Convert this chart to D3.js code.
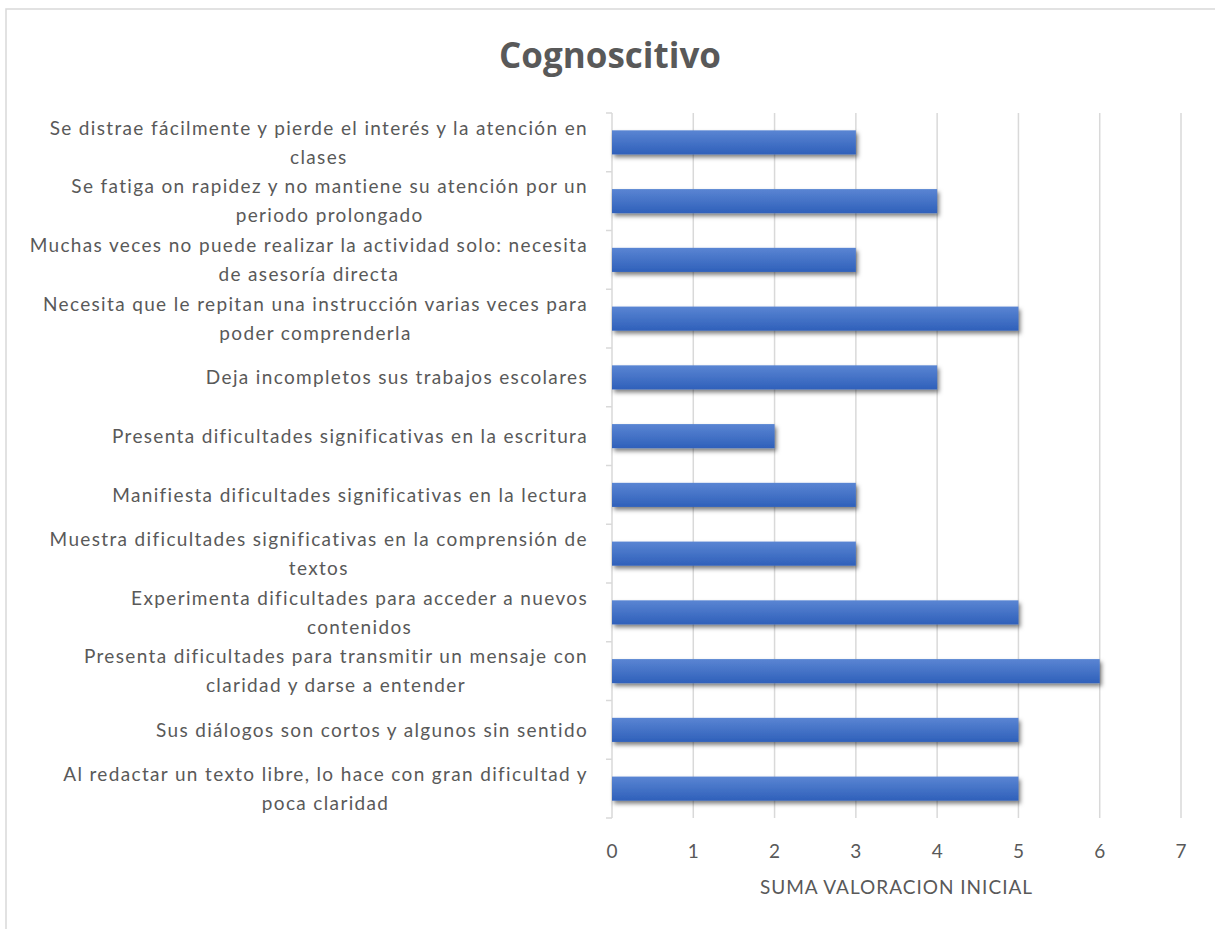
<!DOCTYPE html>
<html>
<head>
<meta charset="utf-8">
<script src="https://cdn.jsdelivr.net/npm/d3@7"></script>
<style>
  body { margin: 0; background: #fff; }
  text { font-family: Lato, "Open Sans", sans-serif; fill: #595959; }
</style>
</head>
<body>
<svg id="chart"></svg>
<script>
// Category labels, top to bottom ("\n" marks the line break in the label)
const categories = [
  "Se distrae fácilmente y pierde el interés y la atención en\nclases",
  "Se fatiga on rapidez y no mantiene su atención por un\nperiodo prolongado",
  "Muchas veces no puede realizar la actividad solo: necesita\nde asesoría directa",
  "Necesita que le repitan una instrucción varias veces para\npoder comprenderla",
  "Deja incompletos sus trabajos escolares",
  "Presenta dificultades significativas en la escritura",
  "Manifiesta dificultades significativas en la lectura",
  "Muestra dificultades significativas en la comprensión de\ntextos",
  "Experimenta dificultades para acceder a nuevos\ncontenidos",
  "Presenta dificultades para transmitir un mensaje con\nclaridad y darse a entender",
  "Sus diálogos son cortos y algunos sin sentido",
  "Al redactar un texto libre, lo hace con gran dificultad y\npoca claridad"
];

// Suma valoracion inicial for each category
const values = [3, 4, 3, 5, 4, 2, 3, 3, 5, 6, 5, 5];

const xTicks = [0, 1, 2, 3, 4, 5, 6, 7];

const chartTitle = "Cognoscitivo";
const axisTitle = "SUMA VALORACION INICIAL";

const width = 1215;
const height = 929;
const margin = { top: 113, right: 34, bottom: 111, left: 612 };

const svg = d3.select("#chart")
  .attr("width", width)
  .attr("height", height);

// Gradient and shadow for the bars
const defs = svg.append("defs");
const grad = defs.append("linearGradient")
  .attr("id", "barGrad")
  .attr("x1", 0).attr("y1", 0).attr("x2", 0).attr("y2", 1);
grad.append("stop").attr("offset", "0%").attr("stop-color", "#5a85d3");
grad.append("stop").attr("offset", "100%").attr("stop-color", "#2f60ba");

const shadow = defs.append("filter")
  .attr("id", "shadow")
  .attr("x", "-5%").attr("y", "-30%")
  .attr("width", "115%").attr("height", "180%");
shadow.append("feDropShadow")
  .attr("dx", 2).attr("dy", 3)
  .attr("stdDeviation", 2.2)
  .attr("flood-color", "#000")
  .attr("flood-opacity", 0.5);

// Chart border (top and left edges visible)
svg.append("path")
  .attr("d", `M6,${height} L6,9 L${width},9`)
  .attr("fill", "none")
  .attr("stroke", "#d9d9d9")
  .attr("stroke-width", 1.5);

// Title
svg.append("text")
  .attr("x", 610)
  .attr("y", 68)
  .attr("text-anchor", "middle")
  .style("font-family", "'Open Sans', sans-serif")
  .style("font-size", "35px")
  .style("font-weight", "bold")
  .text(chartTitle);

const x = d3.scaleLinear()
  .domain([0, 7])
  .range([margin.left, width - margin.right]);

const y = d3.scaleBand()
  .domain(d3.range(categories.length))
  .range([margin.top, height - margin.bottom])
  .paddingInner(0.59)
  .paddingOuter(0.295);

// Vertical gridlines
svg.append("g")
  .selectAll("line")
  .data(xTicks.slice(1))
  .enter()
  .append("line")
  .attr("x1", d => x(d))
  .attr("x2", d => x(d))
  .attr("y1", margin.top)
  .attr("y2", height - margin.bottom)
  .attr("stroke", "#d9d9d9")
  .attr("stroke-width", 1.5);

// Left axis line with small ticks at category boundaries
const step = y.step();
const boundaries = d3.range(categories.length + 1)
  .map(i => margin.top + y.paddingOuter() * step - y.paddingInner() * step / 2 + i * step);

svg.append("line")
  .attr("x1", x(0)).attr("x2", x(0))
  .attr("y1", boundaries[0])
  .attr("y2", boundaries[boundaries.length - 1])
  .attr("stroke", "#d9d9d9")
  .attr("stroke-width", 1.5);

svg.append("g")
  .selectAll("line")
  .data(boundaries)
  .enter()
  .append("line")
  .attr("x1", x(0) - 6)
  .attr("x2", x(0))
  .attr("y1", d => d)
  .attr("y2", d => d)
  .attr("stroke", "#d9d9d9")
  .attr("stroke-width", 1.5);

// Bars
svg.append("g")
  .selectAll("rect")
  .data(values)
  .enter()
  .append("rect")
  .attr("x", x(0))
  .attr("y", (d, i) => y(i))
  .attr("width", d => x(d) - x(0))
  .attr("height", y.bandwidth())
  .attr("fill", "url(#barGrad)")
  .attr("filter", "url(#shadow)");

// Category labels: block right-aligned, lines centred within the block
const labelRight = 588;
const lineGap = 29;
const labels = svg.append("g")
  .selectAll("g")
  .data(categories)
  .enter()
  .append("g");

labels.each(function(d, i) {
  const g = d3.select(this);
  const lines = d.split("\n");
  const cy = y(i) + y.bandwidth() / 2;
  const texts = lines.map((line, k) => g.append("text")
    .attr("y", cy + (k - (lines.length - 1) / 2) * lineGap)
    .attr("dy", "0.35em")
    .attr("text-anchor", "middle")
    .style("font-size", "19px")
    .style("letter-spacing", "1.35px")
    .text(line));
  const maxW = d3.max(texts, t => t.node().getComputedTextLength());
  texts.forEach(t => t.attr("x", labelRight - maxW / 2));
});

// X tick labels
svg.append("g")
  .selectAll("text")
  .data(xTicks)
  .enter()
  .append("text")
  .attr("x", d => x(d))
  .attr("y", 851)
  .attr("dy", "0.35em")
  .attr("text-anchor", "middle")
  .style("font-size", "19px")
  .text(d => d);

// Axis title
svg.append("text")
  .attr("x", (x(0) + x(7)) / 2)
  .attr("y", 887)
  .attr("dy", "0.35em")
  .attr("text-anchor", "middle")
  .style("font-size", "19px")
  .style("letter-spacing", "1px")
  .text(axisTitle);
</script>
</body>
</html>
